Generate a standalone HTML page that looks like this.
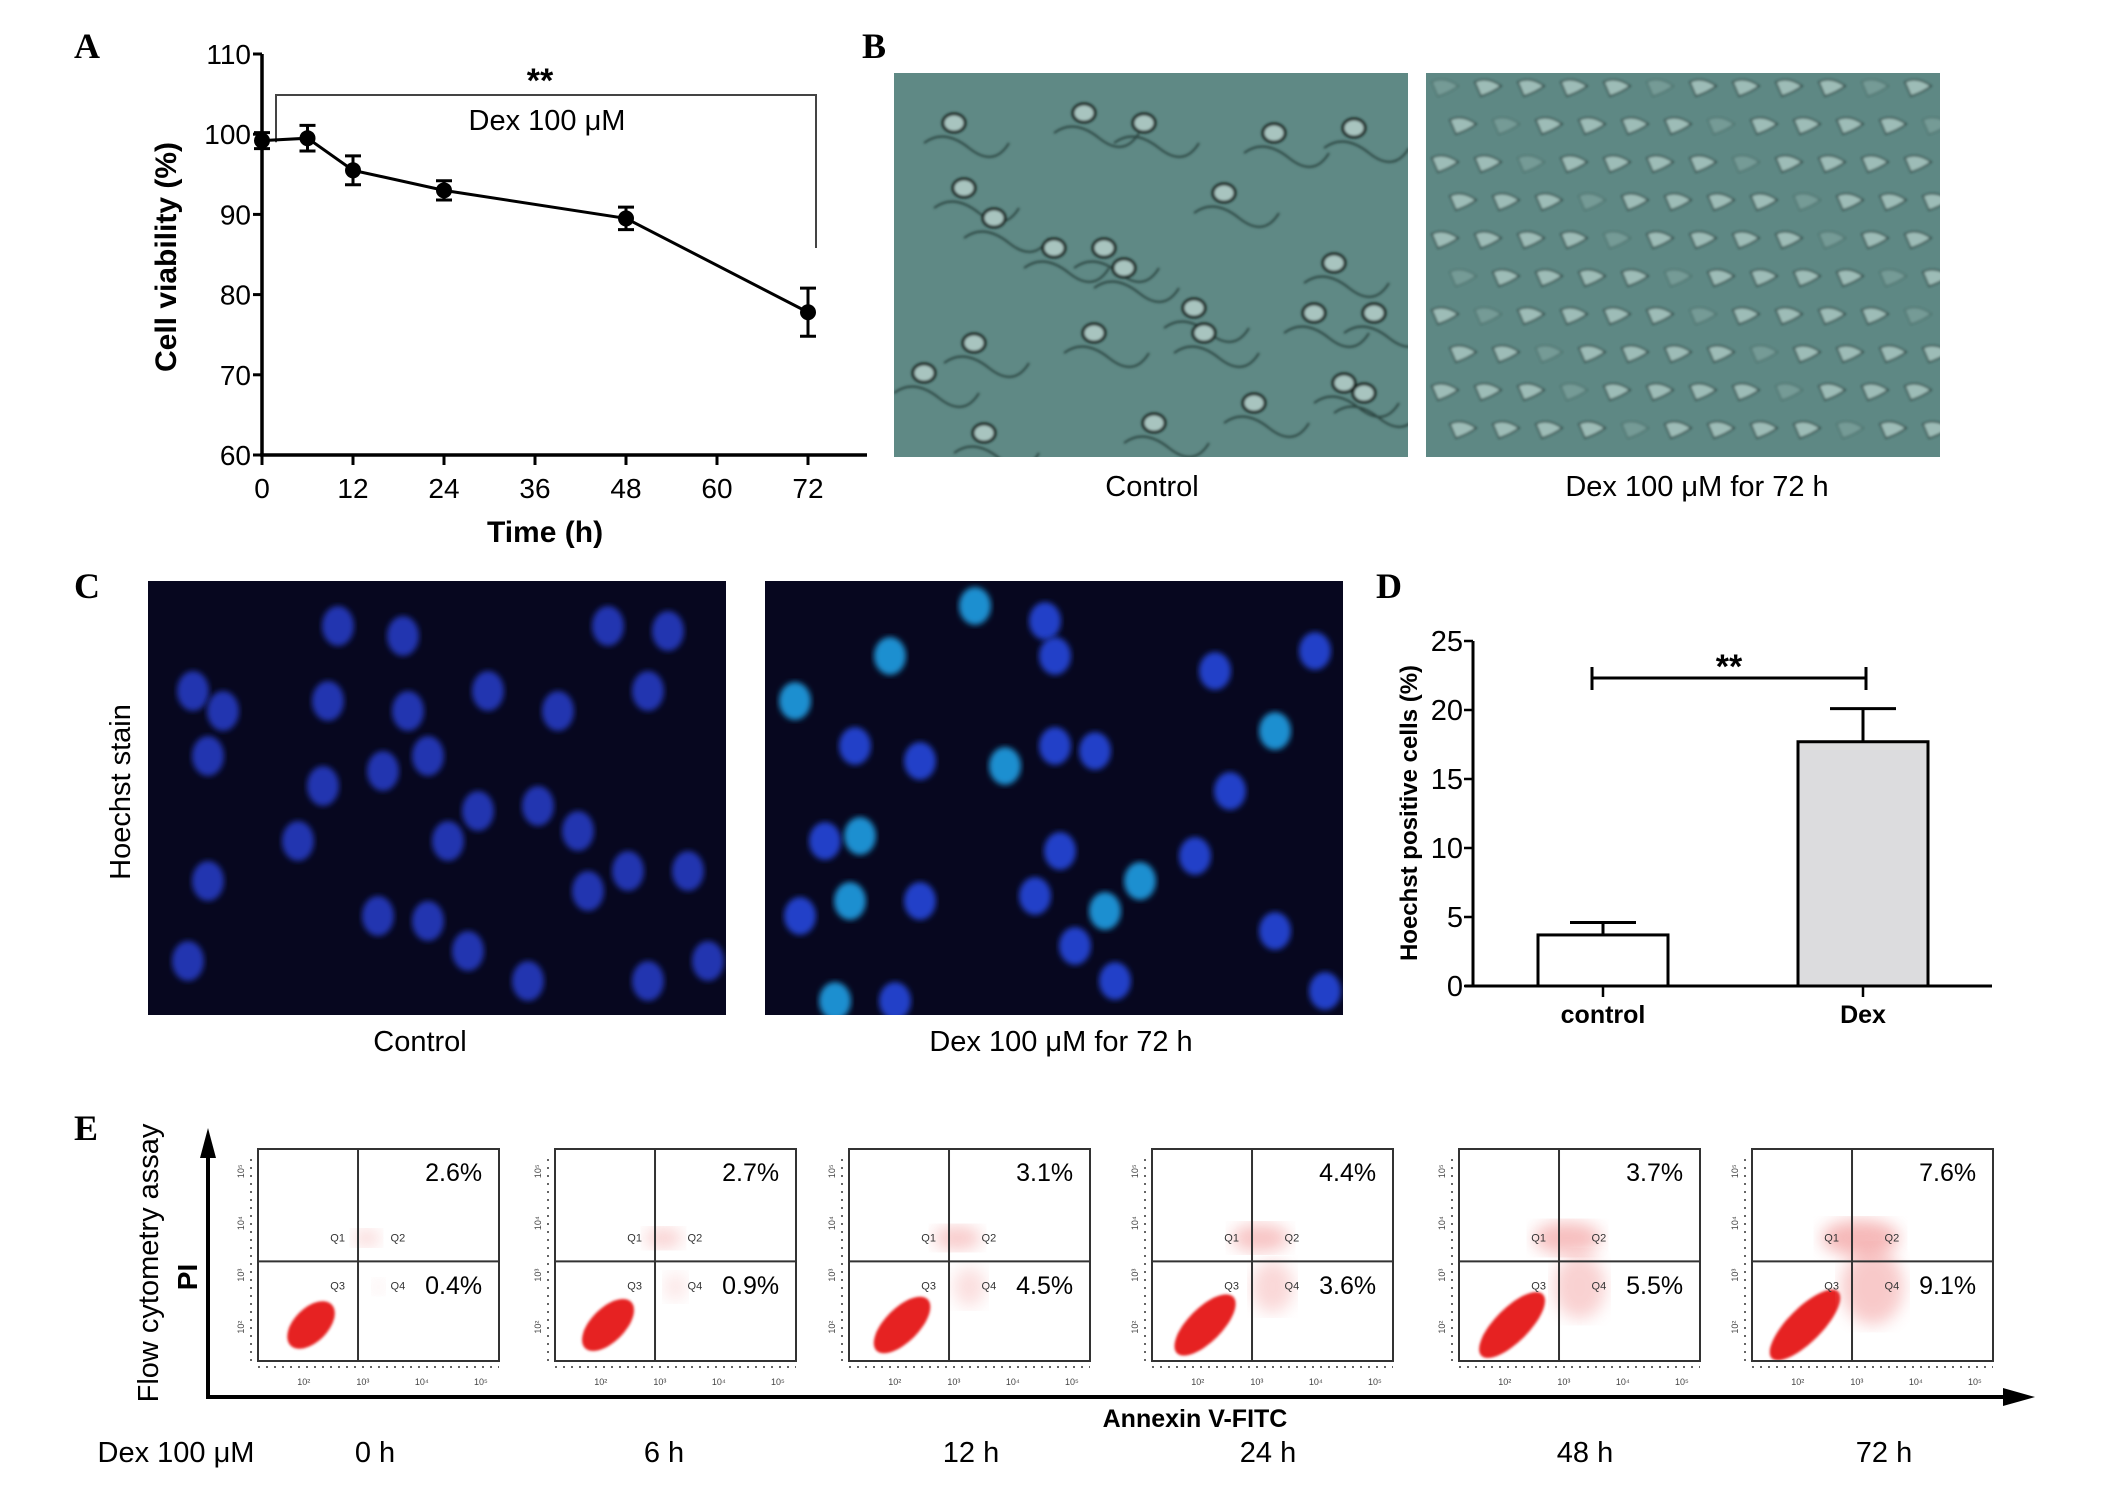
<!DOCTYPE html>
<html><head><meta charset="utf-8"><style>
html,body{margin:0;padding:0;background:#fff}
svg{display:block}
text{font-family:"Liberation Sans",sans-serif}
.lbl{font-family:"Liberation Serif",serif;font-weight:bold;font-size:36px}
.nar{font-family:"Liberation Sans Narrow","Liberation Sans",sans-serif}
</style></head><body>
<svg id="fig" width="2126" height="1491" viewBox="0 0 2126 1491" xmlns="http://www.w3.org/2000/svg">
<defs>
<filter id="blur3"><feGaussianBlur stdDeviation="3"/></filter>
<filter id="blur6"><feGaussianBlur stdDeviation="8"/></filter>
<filter id="blur1"><feGaussianBlur stdDeviation="1.2"/></filter>
<clipPath id="cpB1"><rect x="894" y="73" width="514" height="384"/></clipPath>
<clipPath id="cpB2"><rect x="1426" y="73" width="514" height="384"/></clipPath>
<clipPath id="cpC1"><rect x="148" y="581" width="578" height="434"/></clipPath>
<clipPath id="cpC2"><rect x="765" y="581" width="578" height="434"/></clipPath>
</defs>
<text class="lbl" x="74" y="58">A</text>
<text class="lbl" x="862" y="58">B</text>
<text class="lbl" x="74" y="598">C</text>
<text class="lbl" x="1376" y="598">D</text>
<text class="lbl" x="74" y="1140">E</text>

<g id="chartA"></g>

<g clip-path="url(#cpB1)">
<rect x="894" y="73" width="514" height="384" fill="#5f8985"/>
<g id="bf1" filter="url(#blur1)"></g>
</g>
<g clip-path="url(#cpB2)">
<rect x="1426" y="73" width="514" height="384" fill="#5e8884"/>
<g id="bf2" filter="url(#blur1)"></g>
</g>
<text x="1152" y="496" font-size="29" text-anchor="middle">Control</text>
<text x="1697" y="496" font-size="29" text-anchor="middle">Dex 100 μM for 72 h</text>

<g clip-path="url(#cpC1)">
<rect x="148" y="581" width="578" height="434" fill="#07071f"/>
<g id="hc1"></g>
</g>
<g clip-path="url(#cpC2)">
<rect x="765" y="581" width="578" height="434" fill="#07071f"/>
<g id="hc2"></g>
</g>
<text x="0" y="0" font-size="29" text-anchor="middle" transform="translate(130,792) rotate(-90)">Hoechst stain</text>
<text x="420" y="1051" font-size="29" text-anchor="middle">Control</text>
<text x="1061" y="1051" font-size="29" text-anchor="middle">Dex 100 μM for 72 h</text>

<g id="chartD"></g>
<g id="chartE"></g>
</svg>
<script>
// ---------- Panel A data ----------
const timeA = [0, 6, 12, 24, 48, 72];
const viability = [99.2, 99.5, 95.5, 93.0, 89.5, 77.8];
const viabilityErr = [1.0, 1.6, 1.8, 1.2, 1.4, 3.0];
const yTicksA = [60, 70, 80, 90, 100, 110];
const xTicksA = [0, 12, 24, 36, 48, 60, 72];
// ---------- Panel D data ----------
const catsD = ["control", "Dex"];
const valsD = [3.7, 17.7];
const errD = [0.9, 2.4];
const yTicksD = [0, 5, 10, 15, 20, 25];
// ---------- Panel E data ----------
const timesE = ["0 h", "6 h", "12 h", "24 h", "48 h", "72 h"];
const q2Pct = ["2.6%", "2.7%", "3.1%", "4.4%", "3.7%", "7.6%"];
const q4Pct = ["0.4%", "0.9%", "4.5%", "3.6%", "5.5%", "9.1%"];

const NS = "http://www.w3.org/2000/svg";
function mk(parent, tag, attrs, txt){
  const e = document.createElementNS(NS, tag);
  for (const k in attrs) e.setAttribute(k, attrs[k]);
  if (txt !== undefined) e.textContent = txt;
  parent.appendChild(e);
  return e;
}

// ---------- Panel A ----------
(function(){
  const g = document.getElementById('chartA');
  const x0 = 262, x1 = 808, y0 = 455, y1 = 54;
  const xs = t => x0 + t * (x1 - x0) / 72;
  const ys = v => y0 - (v - 60) * (y0 - y1) / 50;
  let a = mk(g, 'line', {x1:x0, y1:y1, x2:x0, y2:y0, stroke:'#000', 'stroke-width':3.5});
   
  a = mk(g, 'line', {x1:x0-2, y1:y0, x2:867, y2:y0, stroke:'#000', 'stroke-width':3.5});
   
  yTicksA.forEach(v => {
    mk(g, 'line', {x1:x0-9, y1:ys(v), x2:x0, y2:ys(v), stroke:'#000', 'stroke-width':3});
    const t = mk(g, 'text', {x:x0-11, y:ys(v)+10, 'font-size':28, 'text-anchor':'end', class:'nar'}, v);
     
  });
  xTicksA.forEach(v => {
    mk(g, 'line', {x1:xs(v), y1:y0, x2:xs(v), y2:y0+10, stroke:'#000', 'stroke-width':3});
    const t = mk(g, 'text', {x:xs(v), y:y0+43, 'font-size':28, 'text-anchor':'middle', class:'nar'}, v);
     
  });
  let t = mk(g, 'text', {x:545, y:542, 'font-size':30, 'font-weight':'bold', 'text-anchor':'middle'}, 'Time (h)');
   
  t = mk(g, 'text', {x:0, y:0, 'font-size':30, 'font-weight':'bold', 'text-anchor':'middle', transform:'translate(176,257) rotate(-90)'}, 'Cell viability (%)');
   
  const br = mk(g, 'path', {d:`M276,${ys(99)} L276,95 L816,95 L816,248`, fill:'none', stroke:'#444', 'stroke-width':2});
   
  t = mk(g, 'text', {x:540, y:92, 'font-size':34, 'font-weight':'bold', 'text-anchor':'middle'}, '**');
   
  t = mk(g, 'text', {x:547, y:130, 'font-size':29, 'text-anchor':'middle', class:'nar'}, 'Dex 100 μM');
   
  const pts = timeA.map((tt,i) => xs(tt)+','+ys(viability[i])).join(' ');
  const ln = mk(g, 'polyline', {points:pts, fill:'none', stroke:'#000', 'stroke-width':3});
   
  timeA.forEach((tt,i) => {
    const cx = xs(tt), top = ys(viability[i]+viabilityErr[i]), bot = ys(viability[i]-viabilityErr[i]);
    const eb = mk(g, 'path', {d:`M${cx},${top} L${cx},${bot} M${cx-8},${top} L${cx+8},${top} M${cx-8},${bot} L${cx+8},${bot}`, stroke:'#000', 'stroke-width':3, fill:'none'});
     
    const c = mk(g, 'circle', {cx:cx, cy:ys(viability[i]), r:8, fill:'#000'});
     
  });
})();

// ---------- Panel D ----------
(function(){
  const g = document.getElementById('chartD');
  const x0 = 1473, y0 = 986, y1 = 641;
  const ys = v => y0 - v * (y0 - y1) / 25;
  const centers = [1603, 1863];
  const bw = 130;
  let a = mk(g, 'line', {x1:x0, y1:y1, x2:x0, y2:y0, stroke:'#000', 'stroke-width':3});
   
  a = mk(g, 'line', {x1:x0-8, y1:y0, x2:1992, y2:y0, stroke:'#000', 'stroke-width':3});
   
  yTicksD.forEach(v => {
    mk(g, 'line', {x1:x0-9, y1:ys(v), x2:x0, y2:ys(v), stroke:'#000', 'stroke-width':2.5});
    const t = mk(g, 'text', {x:x0-10, y:ys(v)+10, 'font-size':29, 'text-anchor':'end', class:'nar'}, v);
     
  });
  catsD.forEach((c,i) => {
    const cx = centers[i];
    mk(g, 'line', {x1:cx, y1:y0, x2:cx, y2:y0+11, stroke:'#000', 'stroke-width':2.5});
    const eTop = ys(valsD[i]+errD[i]);
    const eb = mk(g, 'path', {d:`M${cx},${ys(valsD[i])} L${cx},${eTop} M${cx-33},${eTop} L${cx+33},${eTop}`, stroke:'#000', 'stroke-width':3, fill:'none'});
     
    const r = mk(g, 'rect', {x:cx-bw/2, y:ys(valsD[i]), width:bw, height:y0-ys(valsD[i]), fill: i===0?'#fff':'#dcdcde', stroke:'#000', 'stroke-width':3});
     
    const t = mk(g, 'text', {x:cx, y:y0+37, 'font-size':25, 'font-weight':'bold', 'text-anchor':'middle'}, c);
     
  });
  const br = mk(g, 'path', {d:'M1592,667 L1592,690 M1592,678 L1866,678 M1866,667 L1866,690', stroke:'#000', 'stroke-width':3, fill:'none'});
   
  let t = mk(g, 'text', {x:1729, y:678, 'font-size':34, 'font-weight':'bold', 'text-anchor':'middle'}, '**');
   
  t = mk(g, 'text', {x:0, y:0, 'font-size':24, 'font-weight':'bold', 'text-anchor':'middle', transform:'translate(1417,813) rotate(-90)'}, 'Hoechst positive cells (%)');
   
})();

// ---------- decorative micrographs ----------
(function(){
  const n1 = [[60,50],[190,40],[250,50],[380,60],[460,55],[70,115],[100,145],[160,175],[210,175],[230,195],[200,260],[300,235],[310,260],[420,240],[440,190],[480,240],[470,320],[30,300],[90,360],[260,350],[360,330],[450,310],[80,270],[330,120]];
  const bf1 = document.getElementById('bf1');
  n1.forEach(p => {
    mk(bf1, 'ellipse', {cx:894+p[0], cy:73+p[1], rx:11, ry:9, fill:'#a8c4bf', stroke:'#15201f', 'stroke-width':3});
    mk(bf1, 'path', {d:`M${894+p[0]-30},${73+p[1]+20} q20,-15 45,5 t40,-5`, fill:'none', stroke:'#2c4441', 'stroke-width':2});
  });
  const bf2 = document.getElementById('bf2');
  for (let i = 0; i < 12; i++) for (let j = 0; j < 10; j++) {
    const x = 1432 + i*43 + (j%2)*18, y = 82 + j*38;
    mk(bf2, 'path', {d:`M${x},${y} q12,-6 26,4 q-8,6 -20,10 z`, fill:'#a9c6c0', stroke:'#233634', 'stroke-width':1.5, opacity: ((i*7+j*3)%5===0)?0.3:0.85});
  }
  const c1 = [[190,45],[255,55],[460,45],[520,50],[45,110],[75,130],[60,175],[180,120],[260,130],[340,110],[410,130],[500,110],[175,205],[235,190],[280,175],[330,230],[300,260],[390,225],[430,250],[440,310],[480,290],[540,290],[560,380],[230,335],[280,340],[320,370],[380,400],[500,400],[150,260],[40,380],[60,300]];
  const g1 = document.getElementById('hc1');
  c1.forEach(p => mk(g1, 'ellipse', {cx:148+p[0], cy:581+p[1], rx:16, ry:20, fill:'#2436b0', filter:'url(#blur3)'}));
  const c2 = [[210,25],[280,40],[290,75],[125,75],[450,90],[550,70],[30,120],[90,165],[155,180],[240,185],[290,165],[330,170],[510,150],[465,210],[60,260],[95,255],[155,320],[35,335],[85,320],[295,270],[270,315],[340,330],[510,350],[430,275],[375,300],[310,365],[350,400],[70,420],[130,420],[560,410]];
  const g2 = document.getElementById('hc2');
  c2.forEach((p,i) => mk(g2, 'ellipse', {cx:765+p[0], cy:581+p[1], rx:16, ry:19, fill: i%3===0?'#1a8fd0':'#2340c8', filter:'url(#blur3)'}));
})();

// ---------- Panel E ----------
(function(){
  const g = document.getElementById('chartE');
  const lefts = [258, 555, 849, 1152, 1459, 1752];
  const labelX = [375, 664, 971, 1268, 1585, 1884];
  const top = 1149, W = 241, H = 212;
  let a = mk(g, 'line', {x1:208, y1:1150, x2:208, y2:1398, stroke:'#000', 'stroke-width':4});
   
  mk(g, 'path', {d:'M208,1128 L200,1158 L216,1158 Z', fill:'#000'});
  a = mk(g, 'line', {x1:206, y1:1397, x2:2010, y2:1397, stroke:'#000', 'stroke-width':4});
   
  mk(g, 'path', {d:'M2035,1397 L2003,1388 L2003,1406 Z', fill:'#000'});
  let t = mk(g, 'text', {x:0, y:0, 'font-size':29, 'text-anchor':'middle', transform:'translate(158,1263) rotate(-90)'}, 'Flow cytometry assay');
   
  t = mk(g, 'text', {x:0, y:0, 'font-size':28, 'font-weight':'bold', 'text-anchor':'middle', transform:'translate(197,1277) rotate(-90)'}, 'PI');
   
  t = mk(g, 'text', {x:1195, y:1427, 'font-size':25, 'font-weight':'bold', 'text-anchor':'middle'}, 'Annexin V-FITC');
   
  t = mk(g, 'text', {x:176, y:1462, 'font-size':29, 'text-anchor':'middle'}, 'Dex 100 μM');
   
  timesE.forEach((lab, i) => {
    const x = lefts[i], dx = x + W*0.415, dy = top + H*0.53;
    const p = mk(g, 'g', {});
    
    
    const spread = 0.5 + i*0.12;
    mk(p, 'ellipse', {cx:x+W*0.22, cy:top+H*0.83, rx:30*spread+14, ry:17, fill:'#e62020', transform:`rotate(-45 ${x+W*0.22} ${top+H*0.83})`, filter:'url(#blur1)'});
    mk(p, 'ellipse', {cx:x+W*0.45, cy:top+H*0.42, rx:14+i*5, ry:8+i*2, fill:'#f08a8a', opacity:0.35+i*0.05, filter:'url(#blur6)'});
    mk(p, 'ellipse', {cx:x+W*0.5, cy:top+H*0.65, rx:6+i*5, ry:8+i*6, fill:'#f08a8a', opacity:0.15+i*0.06, filter:'url(#blur6)'});
    mk(p, 'rect', {x:x, y:top, width:W, height:H, fill:'none', stroke:'#333', 'stroke-width':2});
    mk(p, 'line', {x1:dx, y1:top, x2:dx, y2:top+H, stroke:'#333', 'stroke-width':2});
    mk(p, 'line', {x1:x, y1:dy, x2:x+W, y2:dy, stroke:'#333', 'stroke-width':2});
    mk(p, 'line', {x1:x, y1:top+H+6, x2:x+W, y2:top+H+6, stroke:'#666', 'stroke-width':2, 'stroke-dasharray':'2 6'});
    mk(p, 'line', {x1:x-7, y1:top+10, x2:x-7, y2:top+H, stroke:'#666', 'stroke-width':2, 'stroke-dasharray':'2 6'});
    ['10²','10³','10⁴','10⁵'].forEach((s,k) => {
      mk(p, 'text', {x:x+W*(0.19+k*0.245), y:top+H+24, 'font-size':9, 'text-anchor':'middle', fill:'#444'}, s);
      mk(p, 'text', {x:0, y:0, 'font-size':9, 'text-anchor':'middle', fill:'#444', transform:`translate(${x-14},${top+H*(0.84-k*0.245)}) rotate(-90)`}, s);
    });
    mk(p, 'text', {x:x+W*0.3, y:dy-20, 'font-size':11, fill:'#333'}, 'Q1');
    mk(p, 'text', {x:x+W*0.55, y:dy-20, 'font-size':11, fill:'#333'}, 'Q2');
    mk(p, 'text', {x:x+W*0.3, y:dy+28, 'font-size':11, fill:'#333'}, 'Q3');
    mk(p, 'text', {x:x+W*0.55, y:dy+28, 'font-size':11, fill:'#333'}, 'Q4');
    let tt = mk(p, 'text', {x:x+W*0.93, y:top+32, 'font-size':25, 'text-anchor':'end'}, q2Pct[i]);
     
    tt = mk(p, 'text', {x:x+W*0.93, y:top+145, 'font-size':25, 'text-anchor':'end'}, q4Pct[i]);
     
    tt = mk(g, 'text', {x:labelX[i], y:1462, 'font-size':29, 'text-anchor':'middle'}, lab);
     
  });
})();
</script>
</body></html>
